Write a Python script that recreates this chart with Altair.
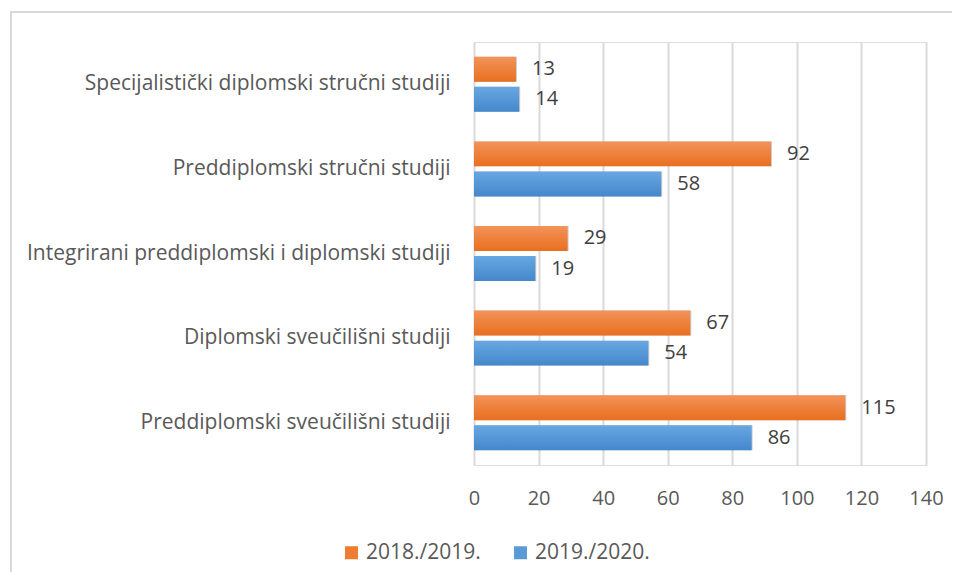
import altair as alt
import pandas as pd

categories = [
    "Specijalistički diplomski stručni studiji",
    "Preddiplomski stručni studiji",
    "Integrirani preddiplomski i diplomski studiji",
    "Diplomski sveučilišni studiji",
    "Preddiplomski sveučilišni studiji",
]
series = ["2018./2019.", "2019./2020."]
v2018 = [13, 92, 29, 67, 115]
v2019 = [14, 58, 19, 54, 86]
x_ticks = [0, 20, 40, 60, 80, 100, 120, 140]

rows = []
for c, a, b in zip(categories, v2018, v2019):
    rows.append({"category": c, "series": series[0], "value": a})
    rows.append({"category": c, "series": series[1], "value": b})
df = pd.DataFrame(rows)

FONT = "Open Sans"
grad = {
    series[0]: alt.Gradient(gradient="linear", x1=0, x2=0, y1=0, y2=1,
                            stops=[alt.GradientStop(color="#F3935A", offset=0),
                                   alt.GradientStop(color="#E86F1F", offset=1)]),
    series[1]: alt.Gradient(gradient="linear", x1=0, x2=0, y1=0, y2=1,
                            stops=[alt.GradientStop(color="#68A7E2", offset=0),
                                   alt.GradientStop(color="#4487CB", offset=1)]),
}

y_enc = alt.Y("category:N", sort=categories,
              scale=alt.Scale(paddingInner=0.35, paddingOuter=0.175),
              axis=alt.Axis(title=None, domain=False, ticks=False, grid=False,
                            labelFont=FONT, labelFontSize=21, labelColor="#595959",
                            labelPadding=24, labelLimit=500))
x_enc = alt.X("value:Q", scale=alt.Scale(domain=[0, 140], nice=False),
              axis=alt.Axis(title=None, domain=False, ticks=False, values=x_ticks,
                            grid=True, gridColor="#D9D9D9", gridWidth=2,
                            labelFlush=False, labelOverlap=False,
                            labelFont=FONT, labelFontSize=20, labelColor="#595959",
                            labelPadding=23))
yoff = alt.YOffset("series:N", sort=series,
                   scale=alt.Scale(domain=series, paddingInner=0.17, paddingOuter=0))

base = alt.Chart(df)

border = alt.Chart(pd.DataFrame({"a": [0]})).mark_rect(
    fill="transparent", stroke="#D9D9D9", strokeWidth=2
).encode(x=alt.value(-463), x2=alt.value(520), y=alt.value(-30), y2=alt.value(560))

shadow1 = base.mark_bar(color="#000000", opacity=0.08, xOffset=1, x2Offset=5,
                        yOffset=2, y2Offset=5).encode(y=y_enc, x=x_enc, yOffset=yoff)
shadow2 = base.mark_bar(color="#000000", opacity=0.12, xOffset=1, x2Offset=3,
                        yOffset=1, y2Offset=3).encode(y=y_enc, x=x_enc, yOffset=yoff)

bars = []
for s in series:
    bars.append(
        base.transform_filter(alt.datum.series == s)
        .mark_bar(color=grad[s])
        .encode(y=y_enc, x=x_enc, yOffset=yoff)
    )

legend_layer = base.mark_bar(opacity=0).encode(
    y=y_enc, x=x_enc, yOffset=yoff,
    color=alt.Color("series:N", sort=series,
                    scale=alt.Scale(domain=series, range=["#ED7D31", "#5B9BD5"]),
                    legend=alt.Legend(title=None, orient="none", direction="horizontal",
                                      legendX=-133, legendY=500, symbolType="square",
                                      symbolSize=169, symbolOpacity=1, symbolStrokeWidth=0,
                                      labelFont=FONT, labelFontSize=21, labelColor="#595959",
                                      columnPadding=29, labelOffset=4, labelLimit=300)),
)

labels = base.mark_text(align="left", baseline="middle", dx=16, font=FONT,
                        fontSize=20, color="#404040").encode(
    y=y_enc, x=x_enc, yOffset=yoff, text="value:Q")

chart = alt.layer(border, shadow1, shadow2, *bars, legend_layer, labels).properties(
    width=452, height=423,
    autosize=alt.AutoSizeParams(type="none"),
    padding={"left": 466, "top": 34, "right": 26, "bottom": 107},
).configure_view(stroke=None).configure(background="white")

chart.save("out.html", embed_options={"renderer": "svg", "actions": False})
